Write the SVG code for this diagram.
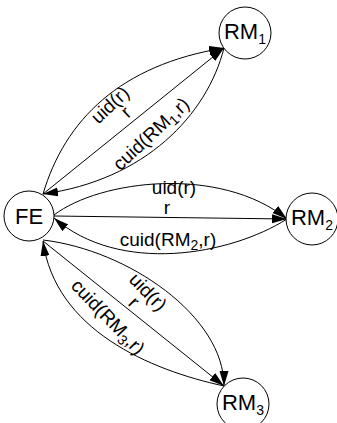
<svg xmlns="http://www.w3.org/2000/svg" width="337" height="423" viewBox="0 0 337 423">
<style>
.node circle{fill:#fff;stroke:#000;stroke-width:1}
.node text{font-family:"Liberation Sans",Arial,sans-serif;font-size:22px;fill:#000;text-anchor:middle}
.edge{fill:none;stroke:#000;stroke-width:1;marker-end:url(#ah)}
.lbl{font-family:"Liberation Sans",Arial,sans-serif;font-size:19px;fill:#000;text-anchor:middle}
.sub{font-size:14px}
</style>
<defs>
<marker id="ah" markerUnits="userSpaceOnUse" markerWidth="16" markerHeight="10" refX="15" refY="4.5" orient="auto">
<path d="M0,0 L15,4.5 L0,9 z" fill="#000"/>
</marker>
</defs>
<rect width="337" height="423" fill="#fff"/>
<g id="connectors">
<path class="edge" d="M43,194 C65,120 120,65 224,48"/>
<path class="edge" d="M43,194 L224,48"/>
<path class="edge" d="M224,48 C207,115 145,180 43,194"/>
<path class="edge" d="M54,215 C100,180 220,165 287,219"/>
<path class="edge" d="M54,216 L287,219"/>
<path class="edge" d="M287,219 C230,255 120,275 54,218"/>
<path class="edge" d="M43,240 C128,250 224,316 224,386"/>
<path class="edge" d="M43,241 L224,386"/>
<path class="edge" d="M224,386 C150,370 55,330 43,241"/>
</g>
<g id="labels">
<text class="lbl" transform="translate(111,106) rotate(-43)" y="5">uid(r)</text>
<text class="lbl" transform="translate(127,113) rotate(-43)" y="5">r</text>
<text class="lbl" transform="translate(152,135) rotate(-43)" y="5">cuid(RM<tspan class="sub" dy="4">1</tspan><tspan dy="-4">,r)</tspan></text>
<text class="lbl" x="174" y="194">uid(r)</text>
<text class="lbl" x="167" y="214">r</text>
<text class="lbl" x="168" y="246">cuid(RM<tspan class="sub" dy="4">2</tspan><tspan dy="-4">,r)</tspan></text>
<text class="lbl" transform="translate(147,293) rotate(46)" y="5">uid(r)</text>
<text class="lbl" transform="translate(133,303) rotate(46)" y="5">r</text>
<text class="lbl" transform="translate(107,318) rotate(46)" y="5">cuid(RM<tspan class="sub" dy="4">3</tspan><tspan dy="-4">,r)</tspan></text>
</g>
<g id="FE" class="node"><circle cx="29" cy="216" r="25"/><text x="29" y="224">FE</text></g>
<g id="RM1" class="node"><circle cx="245" cy="33" r="26"/><text x="245" y="39">RM<tspan class="sub" font-size="15" dy="5">1</tspan></text></g>
<g id="RM2" class="node"><circle cx="312" cy="219" r="26"/><text x="312" y="225">RM<tspan class="sub" font-size="15" dy="5">2</tspan></text></g>
<g id="RM3" class="node"><circle cx="243" cy="404" r="26"/><text x="243" y="410">RM<tspan class="sub" font-size="15" dy="5">3</tspan></text></g>
</svg>
